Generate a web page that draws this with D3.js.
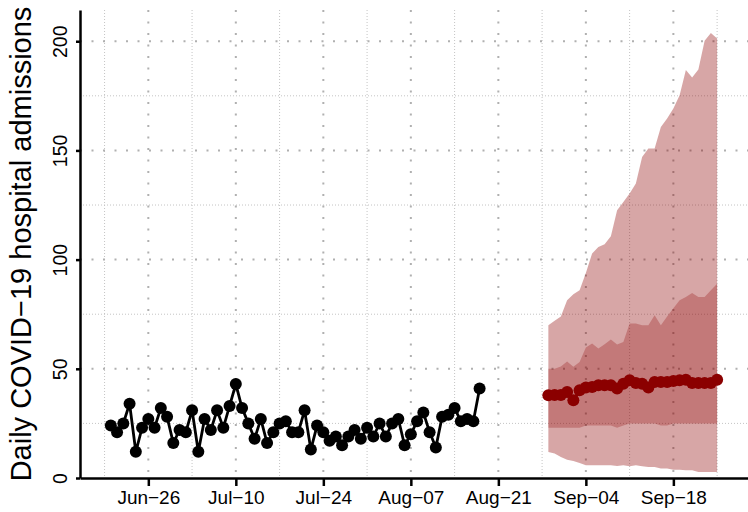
<!DOCTYPE html>
<html>
<head>
<meta charset="utf-8">
<script src="https://cdn.jsdelivr.net/npm/d3@7"></script>
<style>
  html, body { margin: 0; padding: 0; background: #fff; }
  svg { display: block; font-family: "Liberation Sans", Arial, Helvetica, sans-serif; }
</style>
</head>
<body>
<div id="chart"></div>
<script>
// observed daily admissions, one per day starting obsStart
const obsStart = "2021-06-20";
const observed = [24, 21, 25, 34, 12, 23, 27, 23, 32, 28, 16, 22, 21, 31, 12, 27, 22, 31, 23, 33,
  43, 32, 25, 18, 27, 16, 21, 25, 26, 21, 21, 31, 13, 24, 21, 17, 19, 15, 19, 22,
  18, 23, 19, 25, 19, 25, 27, 15, 20, 26, 30, 21, 14, 28, 29, 32, 26, 27, 26, 41];

// forecast, one per day starting fcStart
const fcStart = "2021-08-29";
const fcMedian = [37.9, 38, 38, 39.4, 35.6, 40.2, 41.4, 41.7, 42.5, 42.5, 42.5, 41, 43.2, 44.8,
  43.5, 43.2, 41.4, 44, 44, 44, 44.4, 44.8, 45, 43.5, 43.5, 43.5, 43.5, 45];
const fcLo50 = [23, 23, 23, 23, 23, 23, 24, 24, 24, 24, 24, 23, 24, 25,
  25, 25, 25, 25, 24, 24, 25, 25, 25, 25, 25, 25, 25, 25];
const fcHi50 = [50, 50, 51, 53.4, 50.9, 53.1, 59.7, 61.6, 59.3, 61.2, 63.4, 61.1, 62.3, 70.7,
  70.7, 70, 70, 74.5, 70, 74, 77.7, 81.4, 82.9, 84.7, 82.9, 82.9, 86, 89];
const fcLo95 = [11.9, 11.2, 9.6, 8.4, 7.8, 6.9, 5.8, 5.8, 5.8, 5.8, 5.8, 5.5, 5.8, 5.4,
  5.8, 5.4, 5, 5, 4.3, 4.3, 3.8, 3.8, 3.5, 3.5, 2.7, 2.7, 2.7, 2.7];
const fcHi95 = [70, 72, 74, 81.4, 84.1, 86, 93.9, 102.8, 105.8, 107, 110.7, 122.6, 126.4, 130.3,
  134.9, 147, 150.9, 150.9, 160.7, 164.6, 169.2, 175.3, 186.8, 183.4, 187.1, 200.2, 203.8, 201.3];

const majorDates = ["2021-06-26", "2021-07-10", "2021-07-24", "2021-08-07", "2021-08-21", "2021-09-04", "2021-09-18"];
const minorDates = ["2021-06-19", "2021-07-03", "2021-07-17", "2021-07-31", "2021-08-14", "2021-08-28", "2021-09-11", "2021-09-25"];
const yMajor = [0, 50, 100, 150, 200];
const yMinor = [25, 75, 125, 175];
const yTitle = "Daily COVID\u221219 hospital admissions";

const W = 748, H = 512;
const M = { left: 80, top: 10, right: 748, bottom: 478 };
const DAY = 864e5;
const parse = d3.utcParse("%Y-%m-%d");
const fmt = (d) => d3.utcFormat("%b")(d) + "\u2212" + d3.utcFormat("%d")(d);

const obs = observed.map((v, i) => ({ date: new Date(+parse(obsStart) + i * DAY), v }));
const fc = fcMedian.map((v, i) => ({
  date: new Date(+parse(fcStart) + i * DAY),
  v, lo50: fcLo50[i], hi50: fcHi50[i], lo95: fcLo95[i], hi95: fcHi95[i],
}));

const ref = parse("2021-06-26");
const x = d3.scaleUtc()
  .domain([new Date(+ref - 10.93 * DAY), new Date(+ref + 95.94 * DAY)])
  .range([M.left, M.right]);
const y = d3.scaleLinear().domain([0, 214.3]).range([M.bottom, M.top]);

const svg = d3.select("#chart").append("svg").attr("width", W).attr("height", H);

// grid
const grid = svg.append("g");
grid.selectAll(".vminor").data(minorDates.map(parse)).join("line")
  .attr("x1", (d) => x(d)).attr("x2", (d) => x(d))
  .attr("y1", M.top).attr("y2", M.bottom)
  .attr("stroke", "#c4c4c4").attr("stroke-width", 1).attr("stroke-dasharray", "1,2");
grid.selectAll(".hminor").data(yMinor).join("line")
  .attr("x1", M.left).attr("x2", M.right)
  .attr("y1", (d) => y(d)).attr("y2", (d) => y(d))
  .attr("stroke", "#c4c4c4").attr("stroke-width", 1).attr("stroke-dasharray", "1,2");
grid.selectAll(".vmajor").data(majorDates.map(parse)).join("line")
  .attr("x1", (d) => x(d)).attr("x2", (d) => x(d))
  .attr("y1", M.top).attr("y2", M.bottom)
  .attr("stroke", "#b0b0b0").attr("stroke-width", 2).attr("stroke-dasharray", "2,9.5");
grid.selectAll(".hmajor").data(yMajor.filter((d) => d > 0)).join("line")
  .attr("x1", M.left).attr("x2", M.right)
  .attr("y1", (d) => y(d)).attr("y2", (d) => y(d))
  .attr("stroke", "#b0b0b0").attr("stroke-width", 2).attr("stroke-dasharray", "2,9.5");

// forecast bands
const area95 = d3.area().x((d) => x(d.date)).y0((d) => y(d.lo95)).y1((d) => y(d.hi95));
const area50 = d3.area().x((d) => x(d.date)).y0((d) => y(d.lo50)).y1((d) => y(d.hi50));
svg.append("path").datum(fc).attr("d", area95).attr("fill", "darkred").attr("fill-opacity", 0.35);
svg.append("path").datum(fc).attr("d", area50).attr("fill", "darkred").attr("fill-opacity", 0.27);

// series
const line = d3.line().x((d) => x(d.date)).y((d) => y(d.v));
svg.append("path").datum(obs).attr("d", line)
  .attr("fill", "none").attr("stroke", "#000").attr("stroke-width", 2.8);
svg.append("g").selectAll("circle").data(obs).join("circle")
  .attr("cx", (d) => x(d.date)).attr("cy", (d) => y(d.v)).attr("r", 6).attr("fill", "#000");

svg.append("path").datum(fc).attr("d", line)
  .attr("fill", "none").attr("stroke", "darkred").attr("stroke-width", 3);
svg.append("g").selectAll("circle").data(fc).join("circle")
  .attr("cx", (d) => x(d.date)).attr("cy", (d) => y(d.v)).attr("r", 6).attr("fill", "darkred");

// axes
const xAxis = svg.append("g").attr("transform", `translate(0,${M.bottom})`)
  .call(d3.axisBottom(x).tickValues(majorDates.map(parse)).tickFormat(fmt).tickSize(8).tickSizeOuter(0));
xAxis.select(".domain").attr("stroke-width", 2.5);
xAxis.selectAll(".tick line").attr("stroke-width", 2.5);
xAxis.selectAll(".tick text").attr("font-size", 19).attr("fill", "#000").attr("y", 13).attr("dy", "0.71em");

const yAxis = svg.append("g").attr("transform", `translate(${M.left},0)`)
  .call(d3.axisLeft(y).tickValues(yMajor).tickSize(4).tickSizeOuter(0));
yAxis.select(".domain").attr("stroke-width", 2.5);
yAxis.selectAll(".tick line").attr("stroke-width", 2.5);
yAxis.selectAll(".tick text").remove();
yAxis.selectAll(".tick").append("text")
  .attr("transform", "translate(-13,0) rotate(-90)")
  .attr("text-anchor", "middle")
  .attr("fill", "#000")
  .attr("font-size", 19.5)
  .text((d) => d);

svg.append("text")
  .attr("transform", `translate(31,${(M.top + M.bottom) / 2}) rotate(-90)`)
  .attr("text-anchor", "middle")
  .attr("font-size", 29)
  .attr("fill", "#000")
  .text(yTitle);
</script>
</body>
</html>
